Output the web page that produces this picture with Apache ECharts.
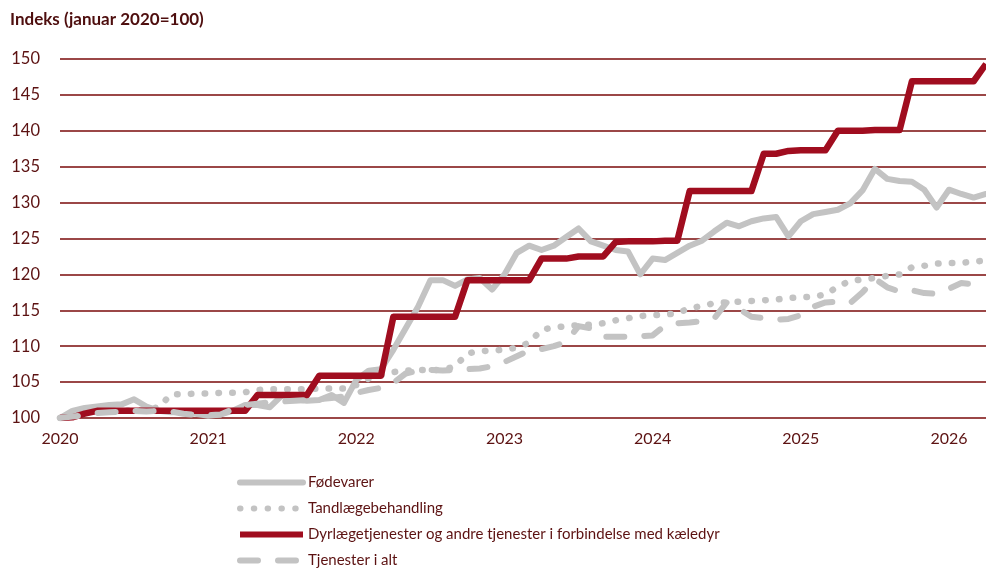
<!DOCTYPE html>
<html>
<head>
<meta charset="utf-8">
<script src="https://cdn.jsdelivr.net/npm/echarts@6/dist/echarts.min.js"></script>
<style>
  html, body { margin: 0; padding: 0; background: #fff; }
  #chart { width: 986px; height: 568px; }
</style>
</head>
<body>
<div id="chart"></div>
<script>
// Monthly index values, January 2020 (month 0) through April 2026 (month 75)
const startYear = 2020;
const yearTicks = ["2020", "2021", "2022", "2023", "2024", "2025", "2026"];
const yTicks = [100, 105, 110, 115, 120, 125, 130, 135, 140, 145, 150];

const seriesNames = [
  "Fødevarer",
  "Tandlægebehandling",
  "Dyrlægetjenester og andre tjenester i forbindelse med kæledyr",
  "Tjenester i alt"
];

const foedevarer = [
  100.0, 101.0, 101.4, 101.6, 101.8, 101.9, 102.6, 101.6, 101.0, 100.8, 100.9, 100.6,
  100.3, 100.5, 101.0, 101.8, 101.8, 101.5, 103.2, 102.6, 102.4, 102.5, 103.2, 102.1,
  105.3, 106.6, 106.8, 109.5, 112.5, 115.5, 119.2, 119.2, 118.4, 119.3, 119.5, 117.9,
  120.0, 123.0, 124.0, 123.4, 124.0, 125.2, 126.4, 124.6, 124.0, 123.4, 123.2, 120.0,
  122.2, 122.0, 123.0, 124.0, 124.7, 126.0, 127.2, 126.7, 127.4, 127.8, 128.0, 125.3,
  127.4, 128.4, 128.7, 129.0, 129.9, 131.7, 134.7, 133.3, 133.0, 132.9, 131.8, 129.3,
  131.8, 131.2, 130.7, 131.2
];

const tandlaege = [
  100.0, 100.8, 101.0, 101.0, 101.0, 101.0, 101.1, 101.2, 101.5, 103.3, 103.3, 103.4,
  103.4, 103.5, 103.5, 103.6, 103.9, 104.0, 104.0, 104.0, 104.0, 104.1, 104.1, 104.1,
  104.6, 105.5, 106.0, 106.4, 106.6, 106.7, 106.7, 106.7, 107.2, 109.0, 109.3, 109.4,
  109.5, 109.8, 110.5, 112.3, 112.6, 112.8, 112.9, 113.0, 113.2, 113.6, 113.9, 114.2,
  114.3, 114.4, 114.6, 115.3, 115.6, 116.0, 116.1, 116.2, 116.3, 116.4, 116.5, 116.7,
  116.8, 116.9, 117.2, 118.3, 119.1, 119.3, 119.5, 119.8, 120.0, 121.0, 121.2, 121.5,
  121.6, 121.6, 121.8, 121.9
];

const dyrlaege = [
  100.0, 100.1, 100.6, 101.0, 101.0, 101.0, 101.0, 101.0, 101.0, 101.0, 101.0, 101.0,
  101.0, 101.0, 101.0, 101.0, 103.2, 103.2, 103.2, 103.2, 103.2, 105.9, 105.9, 105.9,
  105.9, 105.9, 105.9, 114.1, 114.1, 114.1, 114.1, 114.1, 114.1, 119.2, 119.2, 119.2,
  119.2, 119.2, 119.2, 122.2, 122.2, 122.2, 122.5, 122.5, 122.5, 124.5, 124.6, 124.6,
  124.6, 124.7, 124.7, 131.6, 131.6, 131.6, 131.6, 131.6, 131.6, 136.8, 136.8, 137.2,
  137.3, 137.3, 137.3, 140.0, 140.0, 140.0, 140.1, 140.1, 140.1, 146.9, 146.9, 146.9,
  146.9, 146.9, 146.9, 149.3
];

const tjenester = [
  100.0, 100.2, 100.4, 100.7, 100.8, 100.9, 101.0, 100.9, 101.0, 100.9, 100.6, 100.4,
  100.4, 100.5, 101.2, 101.8, 102.0, 102.2, 102.3, 102.4, 102.5, 102.6, 102.8, 103.0,
  103.5, 103.9, 104.2, 104.9, 106.2, 106.6, 106.7, 106.6, 106.7, 106.8, 106.9, 107.2,
  107.8, 108.6, 109.4, 109.6, 110.0, 110.6, 112.8, 112.5, 111.3, 111.3, 111.3, 111.4,
  111.5, 112.9, 113.2, 113.3, 113.5, 113.9, 116.1, 115.2, 114.1, 113.9, 113.7, 113.8,
  114.3, 115.5, 116.1, 116.2, 116.0, 117.5, 119.4, 118.2, 117.6, 117.8, 117.4, 117.3,
  118.0, 118.8, 118.6, 118.5
];

const toPairs = arr => arr.map((v, i) => [i, v]);

const RED = '#A00D1F';
const GRAY = '#C3C3C3';
const TXT = '#5C1212';
const GRID = '#7A0A0A';
const FONT = 'Lato, "Open Sans", sans-serif';

const chart = echarts.init(document.getElementById('chart'), null, { renderer: 'canvas' });

chart.setOption({
  animation: false,
  backgroundColor: '#ffffff',
  title: {
    text: 'Indeks (januar 2020=100)',
    left: 10,
    top: 11,
    padding: 0,
    textStyle: { fontFamily: FONT, fontSize: 17, fontWeight: 'bold', color: '#4E0E0E' }
  },
  grid: { left: 60, right: 0, top: 59, bottom: 150, containLabel: false },
  xAxis: {
    type: 'value',
    min: 0,
    max: 75,
    interval: 12,
    axisLine: { show: false },
    axisTick: { show: false },
    splitLine: { show: false },
    axisLabel: {
      margin: 13,
      fontFamily: FONT,
      fontSize: 16,
      color: TXT,
      showMaxLabel: false,
      formatter: v => (v % 12 === 0 ? yearTicks[v / 12] : '')
    }
  },
  yAxis: {
    type: 'value',
    min: yTicks[0],
    max: yTicks[yTicks.length - 1],
    interval: 5,
    axisLine: { show: false },
    axisTick: { show: false },
    axisLabel: { margin: 20, fontFamily: FONT, fontSize: 16.5, color: TXT },
    splitLine: { show: true, lineStyle: { color: GRID, width: 1.5 } }
  },
  legend: {
    orient: 'vertical',
    left: 237,
    top: 475,
    padding: 0,
    itemWidth: 63,
    itemHeight: 14,
    itemGap: 11,
    itemStyle: { opacity: 0 },
    lineStyle: { width: 6 },
    textStyle: { fontFamily: FONT, fontSize: 15, lineHeight: 15, color: TXT },
    data: seriesNames
  },
  series: [
    {
      name: seriesNames[0],
      type: 'line',
      data: toPairs(foedevarer),
      showSymbol: false,
      symbol: 'none',
      lineStyle: { color: GRAY, width: 6, join: 'round', cap: 'round' },
      itemStyle: { color: GRAY },
      z: 2
    },
    {
      name: seriesNames[1],
      type: 'line',
      data: toPairs(tandlaege),
      showSymbol: false,
      symbol: 'none',
      lineStyle: { color: GRAY, width: 6.5, type: [0.5, 13.3], cap: 'round', join: 'round' },
      itemStyle: { color: GRAY },
      z: 3
    },
    {
      name: seriesNames[2],
      type: 'line',
      data: toPairs(dyrlaege),
      showSymbol: false,
      symbol: 'none',
      lineStyle: { color: RED, width: 6.5, join: 'round', cap: 'butt' },
      itemStyle: { color: RED },
      z: 4
    },
    {
      name: seriesNames[3],
      type: 'line',
      data: toPairs(tjenester),
      showSymbol: false,
      symbol: 'none',
      lineStyle: { color: GRAY, width: 6, type: [18, 20], cap: 'round', join: 'round' },
      itemStyle: { color: GRAY },
      z: 5
    }
  ]
});
</script>
</body>
</html>
